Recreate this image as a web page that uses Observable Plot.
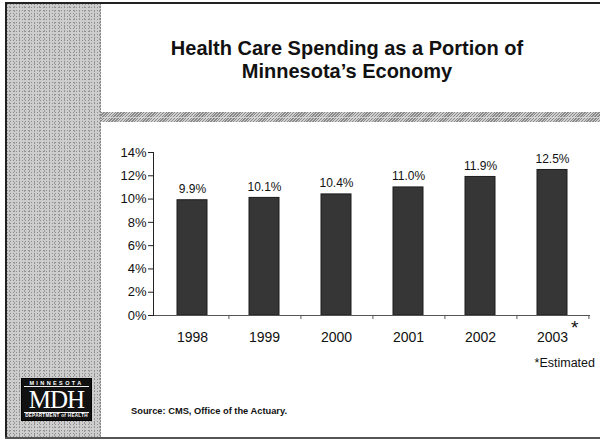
<!DOCTYPE html>
<html>
<head>
<meta charset="utf-8">
<script src="https://cdn.jsdelivr.net/npm/d3@7"></script>
<script src="https://cdn.jsdelivr.net/npm/@observablehq/plot@0.6"></script>
<style>
html, body { margin: 0; padding: 0; background: #fff; }
#page { position: relative; width: 600px; height: 442px; overflow: hidden; font-family: "Liberation Sans", Arial, sans-serif; color: #111; background: #fff; }
.abs { position: absolute; }
#strip { left: 6px; top: 3px; width: 95px; height: 436px; background-color: #cdcdcd;
  background-image: radial-gradient(circle, #8c8c8c 0.6px, transparent 0.9px), radial-gradient(circle, #9a9a9a 0.5px, transparent 0.8px);
  background-size: 3px 3px, 5px 4px; background-position: 0 0, 1px 2px; }
#stripEdge { left: 100px; top: 3px; width: 1px; height: 436px; background: repeating-linear-gradient(180deg, #888 0 1px, transparent 1px 3px); }
#borderTop { left: 5px; top: 2px; width: 595px; height: 2px; background: #222; }
#borderLeft { left: 5px; top: 2px; width: 2px; height: 437px; background: #222; }
#borderBottom { left: 5px; top: 437px; width: 595px; height: 2px; background: #555; }
#hatch { left: 101px; top: 112px; width: 499px; height: 10px;
  background: repeating-linear-gradient(135deg, #8a8a8a 0 1px, #cfcfcf 1px 2px); }
#hatchMid { left: 101px; top: 116.5px; width: 499px; height: 1px; background: rgba(225,225,225,0.7); }
#title { left: 147px; top: 36.5px; width: 400px; text-align: center; font-weight: bold; font-size: 20px; line-height: 23px; color: #111; }
#estimated { right: 5px; top: 356px; font-size: 12.5px; line-height: 14px; }
#star { left: 571px; top: 318px; font-size: 19px; line-height: 19px; }
#source { left: 131px; top: 406px; font-size: 9.3px; line-height: 11px; font-weight: bold; color: #111; }
#logo { left: 21px; top: 378px; width: 71px; height: 43px; background: #111; color: #fff; box-sizing: border-box; border: 1px solid #000; overflow: hidden; }
#logoTop { position: absolute; left: 2px; right: 2px; top: 1px; height: 6px; font-size: 5.5px; line-height: 6px; font-weight: bold; text-align: center; letter-spacing: 2.4px; border-bottom: 1px solid #eee; overflow: hidden; }
#logoMid { position: absolute; left: 0; right: 0; top: 8px; height: 25px; font-family: "Liberation Serif", "DejaVu Serif", serif; font-size: 25px; line-height: 25px; text-align: center; letter-spacing: -1px; overflow: hidden; }
#logoBot { position: absolute; left: 2px; right: 2px; bottom: 1px; height: 6px; font-size: 4.6px; line-height: 6px; font-weight: bold; text-align: center; letter-spacing: 0.3px; border-top: 1px solid #eee; overflow: hidden; }
#chart { left: 0; top: 0; }
</style>
</head>
<body>
<div id="page">
  <div class="abs" id="strip"></div>
  <div class="abs" id="stripEdge"></div>
  <div class="abs" id="borderTop"></div>
  <div class="abs" id="borderLeft"></div>
  <div class="abs" id="borderBottom"></div>
  <div class="abs" id="hatch"></div>
  <div class="abs" id="hatchMid"></div>
  <div class="abs" id="title">Health Care Spending as a Portion of<br>Minnesota’s Economy</div>
  <div class="abs" id="logo">
    <div id="logoTop">MINNESOTA</div>
    <div id="logoMid">MDH</div>
    <div id="logoBot">DEPARTMENT of HEALTH</div>
  </div>
  <div class="abs" id="source">Source: CMS, Office of the Actuary.</div>
  <div class="abs" id="chart"></div>
  <div class="abs" id="star">*</div>
  <div class="abs" id="estimated">*Estimated</div>
</div>
<script>
const years = ["1998", "1999", "2000", "2001", "2002", "2003"];
const shares = [9.9, 10.1, 10.4, 11.0, 11.9, 12.5];
const yTicks = [0, 2, 4, 6, 8, 10, 12, 14];

const data = years.map((year, i) => ({year, share: shares[i]}));

const W = 600, H = 442, mL = 153, mR = 10, mT = 152, mB = 127;
const step = (W - mL - mR) / years.length;

const chart = Plot.plot({
  width: W,
  height: H,
  marginLeft: mL,
  marginRight: mR,
  marginTop: mT,
  marginBottom: mB,
  style: {background: "none", fontFamily: "Liberation Sans, Arial, sans-serif", color: "#111", overflow: "visible"},
  x: {domain: years, paddingInner: 0.59, paddingOuter: 0.295, label: null},
  y: {domain: [0, 14], label: null},
  marks: [
    Plot.barY(data, {x: "year", y: "share", fill: "#363636", stroke: "#1c1c1c", strokeWidth: 1}),
    Plot.ruleY([0], {stroke: "#555"}),
    Plot.frame({anchor: "left", stroke: "#222"}),
    Plot.axisY({ticks: yTicks, tickFormat: d => d + "%", tickSize: 5, tickPadding: 2, fontSize: 13, stroke: "#222", fill: "#111"}),
    Plot.axisX({tickSize: 0, tickPadding: 17, fontSize: 14, fill: "#111"}),
    Plot.axisX({tickSize: 4, tickFormat: () => "", dx: step / 2, stroke: "#555"}),
    Plot.text(data, {x: "year", y: "share", text: d => d.share.toFixed(1) + "%", lineAnchor: "middle", dy: -11, fontSize: 12, fill: "#111"})
  ]
});
document.getElementById("chart").appendChild(chart);
</script>
</body>
</html>
